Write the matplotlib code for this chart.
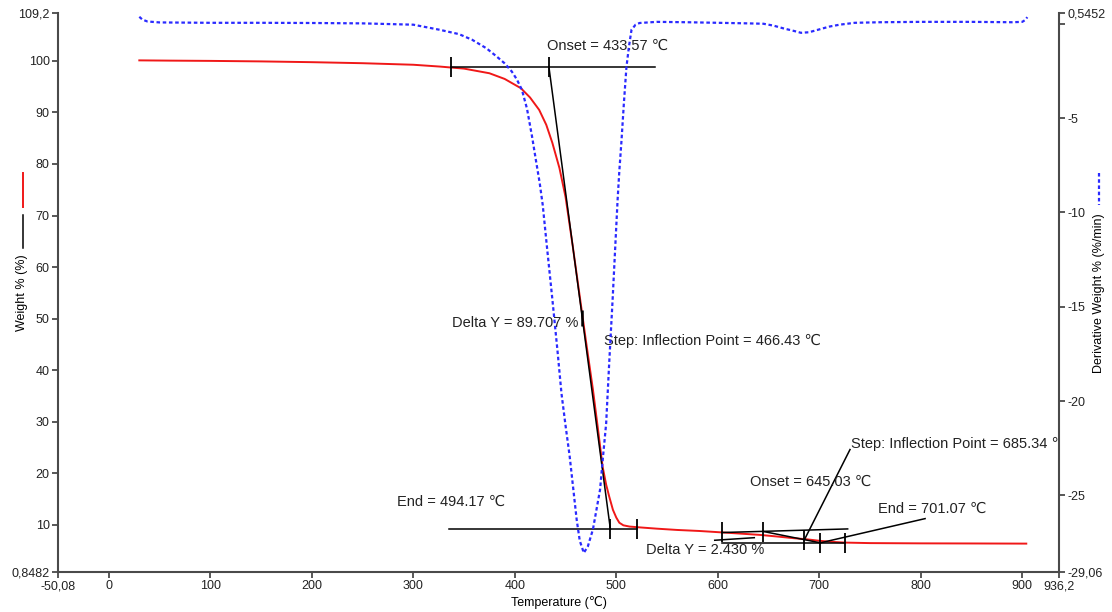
import numpy as np
import matplotlib
matplotlib.use("Agg")
import matplotlib.pyplot as plt
from matplotlib.lines import Line2D

plt.rcParams['font.family'] = ['Liberation Sans', 'DejaVu Sans']

# weight curve (red): temperature (C) / weight (%)
temp_w = [30, 60, 100, 150, 200, 250, 300, 326, 350, 375, 390, 406, 415, 424, 431, 437, 444, 450,
          457, 464, 470, 477, 482, 486.5, 490, 493, 496.7, 500, 503, 507, 513, 523, 540, 560, 582,
          610, 641, 660, 675, 687, 700, 712, 725, 750, 800, 850, 904]
weight = [100.1, 100.05, 100.0, 99.9, 99.75, 99.55, 99.25, 98.9, 98.5, 97.6, 96.5, 94.7, 92.9, 90.5,
          87.6, 84.1, 79.2, 73.6, 64.2, 54.3, 45.8, 36.2, 28.5, 21.3, 17.8, 15.5, 12.9, 11.4, 10.4,
          9.9, 9.66, 9.5, 9.25, 9.0, 8.8, 8.45, 8.05, 7.7, 7.4, 7.2, 6.9, 6.7, 6.55, 6.45, 6.4, 6.38, 6.35]

# derivative weight curve (blue dotted): %/min
temp_d = [30, 33, 38, 50, 100, 150, 200, 250, 300, 326, 345, 358, 372, 382, 390, 397, 402, 407, 412,
          417, 421, 424.5, 427.5, 432, 437, 442, 446, 450, 454, 457.5, 461, 464, 468, 472, 477, 480,
          484, 487, 490, 493, 496.4, 499, 501.3, 503, 505, 507.5, 510, 512.5, 515, 519, 523, 540, 570,
          600, 630, 645, 655, 665, 675, 682, 690, 700, 710, 720, 735, 760, 800, 850, 890, 900, 903, 905]
deriv = [0.37, 0.22, 0.12, 0.07, 0.05, 0.05, 0.04, 0.02, -0.05, -0.32, -0.55, -0.85, -1.3, -1.73, -2.1,
         -2.53, -2.95, -3.5, -4.5, -5.98, -7.3, -8.43, -9.6, -12.0, -14.6, -17.3, -19.6, -21.3, -22.9,
         -24.6, -26.3, -27.4, -28.05, -27.7, -26.8, -25.9, -24.7, -22.9, -21.2, -18.0, -14.6, -11.8,
         -9.33, -7.8, -6.3, -4.2, -2.3, -1.2, -0.32, -0.05, 0.04, 0.1, 0.08, 0.05, 0.02, 0.0, -0.1,
         -0.25, -0.38, -0.48, -0.45, -0.3, -0.15, -0.05, 0.05, 0.08, 0.1, 0.1, 0.08, 0.1, 0.2, 0.35]

x_ticks = [-50.08, 0, 100, 200, 300, 400, 500, 600, 700, 800, 900, 936.2]
x_labels = ["-50,08", "0", "100", "200", "300", "400", "500", "600", "700", "800", "900", "936,2"]
yl_ticks = [0.8482, 10, 20, 30, 40, 50, 60, 70, 80, 90, 100, 109.2]
yl_labels = ["0,8482", "10", "20", "30", "40", "50", "60", "70", "80", "90", "100", "109,2"]
yr_ticks = [-29.06, -25, -20, -15, -10, -5, 0, 0.5452]
yr_labels = ["-29,06", "-25", "-20", "-15", "-10", "-5", "", "0,5452"]

# step analysis constructions (temperature, weight)
s1_base_hi = ([337.5, 538], [98.9, 98.9])
s1_base_lo = ([335.5, 520], [9.15, 9.15])
s1_tangent = ([433.57, 494.17], [98.9, 9.15])
s1_marks = ([337.5, 433.57, 494.17, 520], [98.9, 98.9, 9.15, 9.15])
s1_infl = (466.43, 50.2)

s2_base_hi = ([604, 728], [8.5, 9.2])
s2_base_lo = ([604, 725], [6.4, 6.4])
s2_tangent = ([645.03, 701.07], [8.7, 6.5])
s2_marks = ([604, 645.03, 685.34, 701.07, 725.4], [8.6, 8.7, 7.1, 6.4, 6.4])
s2_leaders = [([685.34, 730.3], [7.1, 24.6]),
              ([701.07, 804.3], [6.5, 11.2]),
              ([597, 636], [7.0, 7.5])]

labels = [("Onset = 433.57 ℃", 432.2, 102.9),
          ("Delta Y = 89.707 %", 338.5, 49.2),
          ("Step: Inflection Point = 466.43 ℃", 487.5, 45.6),
          ("End = 494.17 ℃", 284, 14.4),
          ("Step: Inflection Point = 685.34 ℃", 731, 25.7),
          ("Onset = 645.03 ℃", 631.6, 18.4),
          ("End = 701.07 ℃", 758, 13.1),
          ("Delta Y = 2.430 %", 529, 5.1)]

spine_c = "#4a4a4a"
fig = plt.figure(figsize=(11.12, 6.12), dpi=100)
ax = fig.add_axes([0.0522, 0.0654, 0.9001, 0.9126])
ax2 = ax.twinx()

ax.plot(temp_w, weight, color="#f01818", lw=1.4, zorder=3)
k = dict(color="black", lw=1.1, zorder=4)
for seg in [s1_base_hi, s1_base_lo, s1_tangent, s2_base_hi, s2_base_lo, s2_tangent] + s2_leaders:
    ax.plot(seg[0], seg[1], **k)
ax.plot(s1_marks[0], s1_marks[1], ls="none", marker="|", ms=15, mew=1.3, color="black", zorder=4)
ax.plot(s2_marks[0], s2_marks[1], ls="none", marker="|", ms=14, mew=1.3, color="black", zorder=4)
ax.plot([s1_infl[0]], [s1_infl[1]], ls="none", marker="|", ms=12, mew=1.8, color="black", zorder=4)

for txt, x, y in labels:
    ax.text(x, y, txt, fontsize=10.5, ha="left", va="center", color="#222222", clip_on=True, zorder=5)

ax2.plot(temp_d, deriv, color="#2a2aff", lw=1.6, ls=(0, (1.6, 1.2)))

ax.set_xlim(-50.08, 936.2)
ax.set_ylim(0.8482, 109.2)
ax2.set_ylim(-29.06, 0.5452)
ax.set_xticks(x_ticks)
ax.set_xticklabels(x_labels)
ax.set_yticks(yl_ticks)
ax.set_yticklabels(yl_labels)
ax2.set_yticks(yr_ticks)
ax2.set_yticklabels(yr_labels)

for a in (ax, ax2):
    a.tick_params(direction="out", length=4, width=1.3, color=spine_c, labelsize=9,
                  labelcolor="#222222", pad=2)
    for s in a.spines.values():
        s.set_color(spine_c)
        s.set_linewidth(1.5)
ax.spines["top"].set_visible(False)
ax.spines["right"].set_visible(False)
ax2.spines["top"].set_visible(False)
ax2.spines["left"].set_visible(False)
ax2.spines["bottom"].set_visible(False)

ax.set_xlabel("Temperature (℃)", fontsize=9)
ax.xaxis.set_label_coords(0.5, -0.043)
ax.set_ylabel("Weight % (%)", fontsize=9)
ax.yaxis.set_label_coords(-0.0305, 0.5)
ax2.set_ylabel("Derivative Weight % (%/min)", fontsize=9)
ax2.yaxis.set_label_coords(1.0345, 0.5)

# legend-style line samples beside the axis labels
fig.add_artist(Line2D([0.0204, 0.0204], [0.717, 0.662], transform=fig.transFigure, color="#f01818", lw=1.4))
fig.add_artist(Line2D([0.0204, 0.0204], [0.649, 0.595], transform=fig.transFigure, color="black", lw=1.1))
fig.add_artist(Line2D([0.9883, 0.9883], [0.717, 0.665], transform=fig.transFigure, color="#2a2aff",
                      lw=1.6, ls=(0, (1.6, 1.2))))

fig.savefig("out.png", dpi=100)
